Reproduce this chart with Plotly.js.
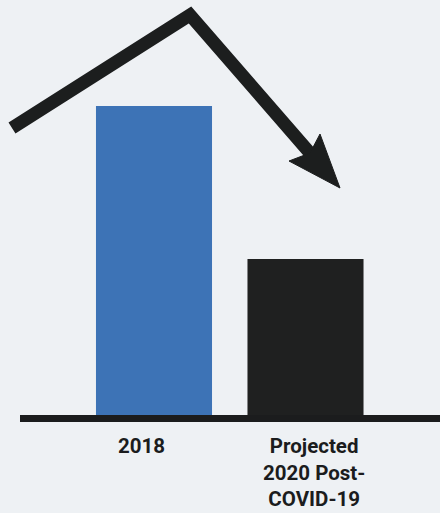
<!DOCTYPE html>
<html>
<head>
<meta charset="utf-8">
<script src="https://cdn.plot.ly/plotly-3.0.1.min.js"></script>
<style>
html,body{margin:0;padding:0;background:#eef1f4;}
#chart{width:440px;height:513px;}
</style>
</head>
<body>
<div id="chart"></div>
<script>
// Data (relative heights; no value axis shown)
var categories = ["2018", "Projected 2020 Post-COVID-19"];
var tickLabels = ["2018", "Projected<br>2020 Post-<br>COVID-19"];
var values = [100, 50.5];
var barColors = ["#3d73b6", "#1f2020"];

var W = 440, H = 513;
var mL = 20, mR = 0, mT = 0, mB = 98;
var pw = W - mL - mR, ph = H - mT - mB;
function px(x){ return (x - mL) / pw; }
function py(y){ return (H - mB - y) / ph; }

var labelShift = [-13, 8];

var trace = {
  type: "bar",
  x: [0, 1],
  y: values,
  width: 0.766,
  marker: {color: barColors, line: {width: 0}},
  hoverinfo: "skip"
};

var annotations = tickLabels.map(function(t, i){
  return {
    x: i, y: 0, xref: "x", yref: "y",
    text: t, showarrow: false,
    xanchor: "center", yanchor: "top",
    yshift: -17, xshift: labelShift[i],
    align: "center",
    font: {family: "Roboto", size: 20.5, color: "#1b1c1d", weight: 700}
  };
});

// Decorative trend arrow (paper coordinates)
var shaft = "M" + px(12) + "," + py(128) + " L" + px(190) + "," + py(15) + " L" + px(316) + "," + py(160);
var head = "M" + px(289) + "," + py(161) + " L" + px(340) + "," + py(188) + " L" + px(320) + "," + py(134) + " L" + px(310) + "," + py(153) + " Z";

var layout = {
  width: W, height: H,
  margin: {l: mL, r: mR, t: mT, b: mB, pad: 0},
  paper_bgcolor: "#eef1f4",
  plot_bgcolor: "#eef1f4",
  showlegend: false,
  xaxis: {
    type: "linear",
    range: [-134/151.5, 286/151.5],
    showgrid: false, zeroline: false,
    showticklabels: false, ticks: "",
    showline: true, linecolor: "#1b1c1d", linewidth: 7,
    fixedrange: true
  },
  yaxis: {
    range: [0, 415/309*100],
    showgrid: false, zeroline: false,
    showticklabels: false, ticks: "", showline: false,
    fixedrange: true
  },
  annotations: annotations,
  shapes: [
    {type: "path", xref: "paper", yref: "paper", path: shaft,
     line: {color: "#1c1e1e", width: 13}, layer: "above"},
    {type: "path", xref: "paper", yref: "paper", path: head,
     fillcolor: "#1c1e1e", line: {color: "#1c1e1e", width: 1}, layer: "above"}
  ]
};

Plotly.newPlot("chart", [trace], layout, {displayModeBar: false, staticPlot: true});
</script>
</body>
</html>
